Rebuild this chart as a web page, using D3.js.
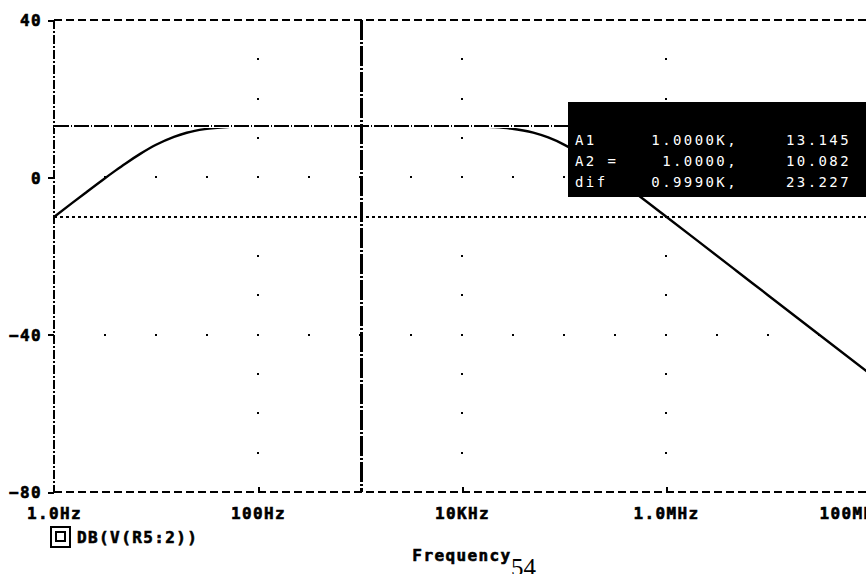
<!DOCTYPE html>
<html>
<head>
<meta charset="utf-8">
<script src="https://cdn.jsdelivr.net/npm/d3@7/dist/d3.min.js"></script>
<style>
  html, body { margin: 0; padding: 0; background: #fff; }
  svg { display: block; }
  .lbl { font-family: "DejaVu Sans Mono", monospace; font-weight: bold; font-size: 16px; letter-spacing: 1.4px;
         fill: #000; stroke: #000; stroke-width: 0.6px; }
  .readout { font-family: "DejaVu Sans Mono", monospace; font-size: 14px; letter-spacing: 2.4px; fill: #fff; white-space: pre; }
</style>
</head>
<body>
<svg id="chart" width="866" height="574"></svg>
<script>
// AC sweep of DB(V(R5:2)): frequency (Hz) and magnitude (dB)
const freqHz = [1, 1.5, 2, 3, 4, 5, 7, 10, 15, 20, 30, 50, 70, 100, 200, 1000,
                10000, 20000, 30000, 50000, 70000, 100000, 150000, 200000, 300000,
                500000, 1e6, 2e6, 5e6, 1e7, 3e7, 1e8];
const gainDb = [-10.082, -6.55, -4.09, -0.66, 1.70, 3.47, 5.96, 8.27, 10.3, 11.33, 12.24, 12.8, 12.97, 13.08, 13.13, 13.145,
                13.08, 12.8, 12.41, 11.36, 10.13, 8.32, 5.67, 3.52, 0.27,
                -4.0, -9.97, -15.97, -23.93, -29.96, -39.5, -49.96];

// axis ticks
const yTicks = [40, 0, -40, -80];
const xTicks = [1, 100, 1e4, 1e6, 1e8];
const xTickLabels = ["1.0Hz", "100Hz", "10KHz", "1.0MHz", "100MHz"];

// probe cursors
const cursorA1 = { f: 1000, db: 13.145 };
const cursorA2 = { f: 1, db: -10.082 };
const readoutRows = [
  ["A1", "1.0000K,", "13.145"],
  ["A2 =", "1.0000,", "10.082"],
  ["dif", "0.9990K,", "23.227"]
];

const svg = d3.select("#chart");
svg.append("rect").attr("width", 866).attr("height", 574).attr("fill", "#fff");

const x = d3.scaleLog().domain([1, 1e8]).range([54, 870]);
const y = d3.scaleLinear().domain([-80, 40]).range([492, 20]);

const g = svg.append("g").attr("shape-rendering", "crispEdges");

// grid dots: dotted columns every other decade, dotted rows every 40 dB
const colFreqs = [100, 1e4, 1e6];
const colDb = d3.range(30, -80, -10).filter(v => v !== 40 && v !== -80);
const dots = [];
colFreqs.forEach(f => colDb.forEach(v => dots.push([x(f), y(v)])));
const halfDecades = d3.range(1, 16).map(k => Math.pow(10, k / 2));
[0, -40].forEach(v => halfDecades.forEach(f => dots.push([x(f), y(v)])));
g.selectAll("rect.dot").data(dots).join("rect").attr("class", "dot")
  .attr("x", d => Math.round(d[0]) - 1).attr("y", d => Math.round(d[1]) - 1)
  .attr("width", 2).attr("height", 2).attr("fill", "#000");

// frame
g.append("line").attr("x1", 54).attr("x2", 870).attr("y1", y(40)).attr("y2", y(40))
  .attr("stroke", "#000").attr("stroke-width", 2).attr("stroke-dasharray", "8,4");
g.append("line").attr("x1", 54).attr("x2", 870).attr("y1", y(-80)).attr("y2", y(-80))
  .attr("stroke", "#000").attr("stroke-width", 2).attr("stroke-dasharray", "8,4");
g.append("line").attr("x1", x(cursorA2.f)).attr("x2", x(cursorA2.f)).attr("y1", y(40)).attr("y2", y(-80))
  .attr("stroke", "#000").attr("stroke-width", 2).attr("stroke-dasharray", "9,2,2,2");

// y axis
const yAxis = d3.axisLeft(y).tickValues(yTicks).tickSize(6).tickPadding(6).tickFormat(d3.format("d"));
const ya = svg.append("g").attr("transform", "translate(54,0)").call(yAxis);
ya.select(".domain").remove();
ya.selectAll(".tick line").attr("stroke-width", 2).attr("shape-rendering", "crispEdges");
ya.selectAll(".tick text").attr("class", "lbl").attr("font-size", null).attr("font-family", null)
  .attr("dy", "0.36em");

// x axis
const xAxis = d3.axisBottom(x).tickValues(xTicks).tickSize(-5).tickPadding(16)
  .tickFormat((d, i) => xTickLabels[i]);
const xa = svg.append("g").attr("transform", "translate(0,492)").call(xAxis);
xa.select(".domain").remove();
xa.selectAll(".tick line").attr("stroke-width", 2).attr("shape-rendering", "crispEdges")
  .attr("display", d => (d === 1 || d === 1e8) ? "none" : null);
xa.selectAll(".tick text").attr("class", "lbl").attr("font-size", null).attr("font-family", null)
  .attr("dy", "0.71em")
  .attr("dx", d => d === 1e8 ? -18 : 0);

// response trace
const line = d3.line().x((d, i) => x(freqHz[i])).y(d => y(d)).curve(d3.curveMonotoneX);
svg.append("path").datum(gainDb).attr("d", line).attr("fill", "none")
  .attr("stroke", "#000").attr("stroke-width", 2.4);

// cursor lines (A1 clears the pixels under it before drawing its dash-dot)
const yA1 = Math.round(y(cursorA1.db));
svg.append("line").attr("x1", 54).attr("x2", 870).attr("y1", yA1 - 0.5).attr("y2", yA1 - 0.5)
  .attr("stroke", "#fff").attr("stroke-width", 4).attr("shape-rendering", "crispEdges");
svg.append("line").attr("x1", 54).attr("x2", 870).attr("y1", yA1).attr("y2", yA1)
  .attr("stroke", "#000").attr("stroke-width", 2).attr("stroke-dasharray", "15,2,1,2")
  .attr("shape-rendering", "crispEdges");
svg.append("line").attr("x1", 54).attr("x2", 870).attr("y1", y(cursorA2.db)).attr("y2", y(cursorA2.db))
  .attr("stroke", "#000").attr("stroke-width", 2).attr("stroke-dasharray", "3,3")
  .attr("shape-rendering", "crispEdges");
svg.append("line").attr("x1", x(cursorA1.f) + 1).attr("x2", x(cursorA1.f) + 1)
  .attr("y1", y(40)).attr("y2", y(-80))
  .attr("stroke", "#000").attr("stroke-width", 3).attr("stroke-dasharray", "20,2,2,2")
  .attr("shape-rendering", "crispEdges");

// cursor readout box
const box = svg.append("g").attr("transform", "translate(568,102)");
box.append("rect").attr("width", 300).attr("height", 95).attr("fill", "#000");
readoutRows.forEach((r, i) => {
  const yy = 43 + i * 21;
  box.append("text").attr("class", "readout").attr("x", 7).attr("y", yy).text(r[0]);
  box.append("text").attr("class", "readout").attr("x", 170).attr("y", yy).attr("text-anchor", "end").text(r[1]);
  box.append("text").attr("class", "readout").attr("x", 283).attr("y", yy).attr("text-anchor", "end").text(r[2]);
});

// legend
const leg = svg.append("g").attr("shape-rendering", "crispEdges");
leg.append("rect").attr("x", 51).attr("y", 527).attr("width", 19).attr("height", 20)
  .attr("fill", "none").attr("stroke", "#000").attr("stroke-width", 2);
leg.append("rect").attr("x", 56).attr("y", 532).attr("width", 9).attr("height", 9)
  .attr("fill", "none").attr("stroke", "#000").attr("stroke-width", 2);
svg.append("text").attr("class", "lbl").attr("x", 77).attr("y", 543).text("DB(V(R5:2))");

// axis title
svg.append("text").attr("class", "lbl").attr("x", 462).attr("y", 561).attr("text-anchor", "middle").text("Frequency");

// page number
svg.append("text").attr("x", 511).attr("y", 576)
  .attr("font-family", "Liberation Serif, serif").attr("font-size", 25).attr("fill", "#000").text("54");
</script>
</body>
</html>
